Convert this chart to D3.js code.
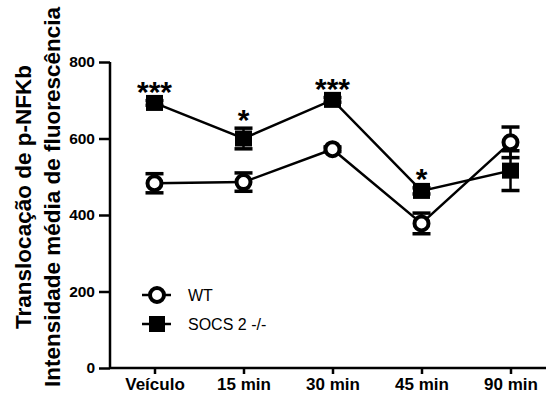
<!DOCTYPE html>
<html>
<head>
<meta charset="utf-8">
<script src="https://cdn.jsdelivr.net/npm/d3@7"></script>
<style>
  html, body { margin: 0; padding: 0; background: #fff; }
  svg { display: block; }
  text { font-family: "Liberation Sans", Arial, Helvetica, sans-serif; }
</style>
</head>
<body>
<svg id="chart" width="546" height="395"></svg>
<script>
// Time points (x categories)
const categories = ["Veículo", "15 min", "30 min", "45 min", "90 min"];
// Wild type: mean and SEM
const wtMean = [483, 486, 572, 378, 590];
const wtSem  = [25, 24, 6, 27, 40];
// SOCS 2 knockout: mean and SEM
const socsMean = [693, 600, 701, 463, 516];
const socsSem  = [6, 27, 6, 8, 52];
// Significance marks above SOCS 2 -/- points
const sigMarks = ["***", "*", "***", "*", ""];
// Y axis ticks
const yTicks = [0, 200, 400, 600, 800];

const svg = d3.select("#chart");

const x = d3.scalePoint().domain(categories).range([110, 555]).padding(0.5);
const y = d3.scaleLinear().domain([0, 800]).range([368, 62]);

// Axes
const yAxis = svg.append("g")
  .attr("transform", "translate(110,0)")
  .call(d3.axisLeft(y).tickValues(yTicks).tickSize(11).tickPadding(4));
yAxis.select(".domain").attr("stroke", "#000").attr("stroke-width", 2.5)
  .attr("d", "M0," + y(800) + "V" + y(0));
yAxis.selectAll(".tick line").attr("stroke", "#000").attr("stroke-width", 2.5);
yAxis.selectAll(".tick text")
  .attr("fill", "#000").style("font-size", "15.5px").style("font-weight", "bold")
  .style("font-family", "'Liberation Sans', Arial, sans-serif");

const xAxis = svg.append("g")
  .attr("transform", "translate(0," + y(0) + ")")
  .call(d3.axisBottom(x).tickSize(6).tickPadding(4));
xAxis.select(".domain").attr("stroke", "#000").attr("stroke-width", 2.5)
  .attr("d", "M110,0H555");
xAxis.selectAll(".tick line").attr("stroke", "#000").attr("stroke-width", 2.5);
xAxis.selectAll(".tick text")
  .attr("fill", "#000").attr("dy", "0.71em").style("font-size", "17px").style("font-weight", "bold")
  .style("font-family", "'Liberation Sans', Arial, sans-serif");

// Y axis title (two lines)
const titleG = svg.append("g").attr("transform", "translate(0,197) rotate(-90)");
titleG.append("text").attr("x", 0).attr("y", 31).attr("text-anchor", "middle")
  .style("font-size", "22.5px").style("font-weight", "bold").text("Translocação de p-NFKb");
titleG.append("text").attr("x", 0).attr("y", 60).attr("text-anchor", "middle")
  .style("font-size", "22.5px").style("font-weight", "bold").text("Intensidade média de fluorescência");

const line = d3.line().x((d, i) => x(categories[i])).y(d => y(d));
const capW = 9;

function errorBars(g, means, sems) {
  means.forEach((m, i) => {
    const cx = x(categories[i]);
    const top = y(m + sems[i]), bot = y(m - sems[i]);
    g.append("line").attr("x1", cx).attr("x2", cx).attr("y1", top).attr("y2", bot)
      .attr("stroke", "#000").attr("stroke-width", 2.5);
    [top, bot].forEach(yy => g.append("line")
      .attr("x1", cx - capW).attr("x2", cx + capW).attr("y1", yy).attr("y2", yy)
      .attr("stroke", "#000").attr("stroke-width", 3.5));
  });
}

// SOCS 2 -/- series
const gS = svg.append("g");
gS.append("path").datum(socsMean).attr("d", line)
  .attr("fill", "none").attr("stroke", "#000").attr("stroke-width", 2.5);
errorBars(gS, socsMean, socsSem);
gS.selectAll("rect").data(socsMean).join("rect")
  .attr("x", (d, i) => x(categories[i]) - 8.5).attr("y", d => y(d) - 8)
  .attr("width", 17).attr("height", 16).attr("fill", "#000");

// WT series
const gW = svg.append("g");
gW.append("path").datum(wtMean).attr("d", line)
  .attr("fill", "none").attr("stroke", "#000").attr("stroke-width", 2.5);
errorBars(gW, wtMean, wtSem);
gW.selectAll("circle").data(wtMean).join("circle")
  .attr("cx", (d, i) => x(categories[i])).attr("cy", d => y(d)).attr("r", 7)
  .attr("fill", "#fff").attr("stroke", "#000").attr("stroke-width", 4);

// Significance asterisks
svg.append("g").selectAll("text").data(sigMarks).join("text")
  .attr("x", (d, i) => x(categories[i]))
  .attr("y", (d, i) => y(socsMean[i] + socsSem[i]) - 21)
  .attr("dy", "0.75em")
  .attr("text-anchor", "middle")
  .style("font-size", "30px").style("font-weight", "bold")
  .text(d => d);

// Legend
const lg = svg.append("g");
lg.append("line").attr("x1", 142).attr("x2", 171).attr("y1", 295).attr("y2", 295)
  .attr("stroke", "#000").attr("stroke-width", 2.5);
lg.append("circle").attr("cx", 157).attr("cy", 295).attr("r", 7)
  .attr("fill", "#fff").attr("stroke", "#000").attr("stroke-width", 4);
lg.append("text").attr("x", 188).attr("y", 295).attr("dy", "0.36em")
  .style("font-size", "16px").text("WT");
lg.append("line").attr("x1", 142).attr("x2", 171).attr("y1", 324).attr("y2", 324)
  .attr("stroke", "#000").attr("stroke-width", 2.5);
lg.append("rect").attr("x", 149).attr("y", 316).attr("width", 16).attr("height", 16).attr("fill", "#000");
lg.append("text").attr("x", 188).attr("y", 324).attr("dy", "0.36em")
  .style("font-size", "16px").text("SOCS 2 -/-");
</script>
</body>
</html>
